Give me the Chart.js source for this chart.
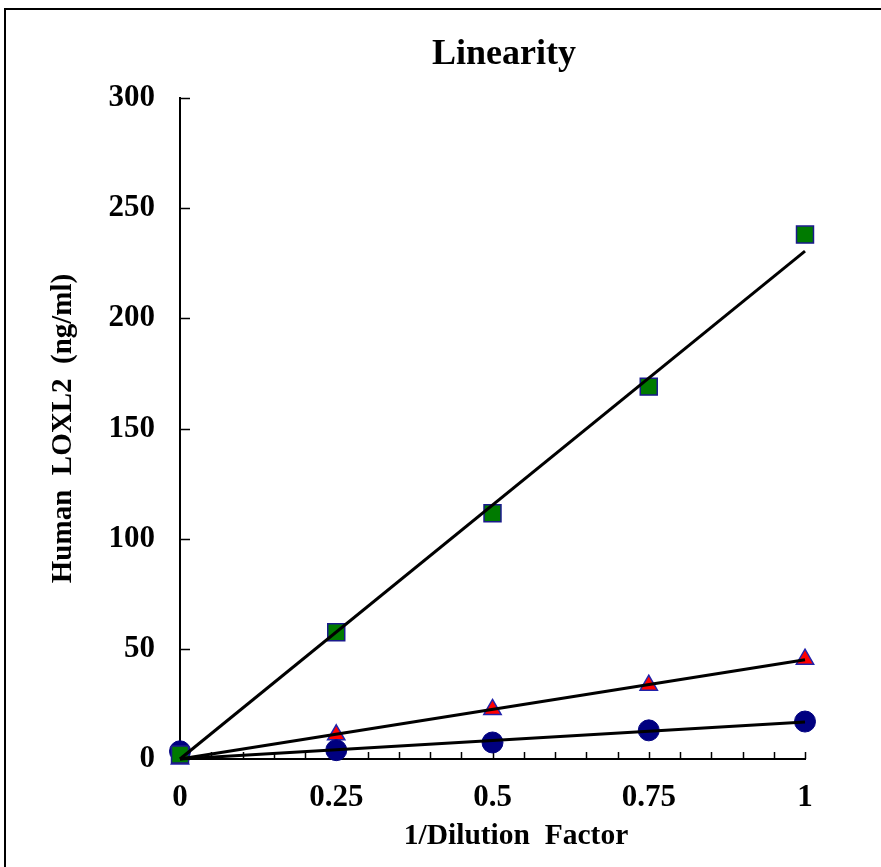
<!DOCTYPE html>
<html lang="en">
<head>
    <meta charset="UTF-8">
    <title>Linearity</title>
    <script src="https://cdn.jsdelivr.net/npm/chart.js"></script>
    <style>
        html, body { margin: 0; padding: 0; background: #fff; }
        #wrap { width: 881px; height: 867px; position: relative; }
    </style>
</head>
<body>
    <div id="wrap"><canvas id="linearityChart" width="881" height="867"></canvas></div>

    <script>
        // dilution points (x) and measured values per sample
        const dilution = [0, 0.25, 0.5, 0.75, 1];
        const squares = [2, 57.5, 111.5, 169, 238];
        const triangles = [0, 11, 22.5, 33.5, 45.3];
        const circles = [3.5, 4, 7.5, 13, 17];

        // fitted lines (value at x = 0 and x = 1)
        const fitX = [0, 1];
        const fitSquares = [0, 230.5];
        const fitTriangles = [0, 45];
        const fitCircles = [0, 16.8];

        const xTickLabels = ['0', '0.25', '0.5', '0.75', '1'];
        const yTicks = [0, 50, 100, 150, 200, 250, 300];

        const toPoints = (xs, ys) => xs.map((x, i) => ({ x: x, y: ys[i] }));
        const serif = '"Liberation Serif", "Times New Roman", serif';

        const fitLine = (ys) => ({
            data: toPoints(fitX, ys),
            showLine: true,
            borderColor: '#000',
            borderWidth: 3,
            pointRadius: 0,
            clip: false
        });

        // frame, titles and inward tick marks
        const decor = {
            id: 'decor',
            beforeDatasetsDraw(chart) {
                const ctx = chart.ctx;
                const x = chart.scales.x, y = chart.scales.y;
                const area = chart.chartArea;
                ctx.save();
                ctx.strokeStyle = '#000';
                ctx.lineWidth = 1.5;
                ctx.beginPath();
                x.ticks.forEach(t => {
                    const px = Math.round(x.getPixelForValue(t.value)) + 0.5;
                    ctx.moveTo(px, area.bottom);
                    ctx.lineTo(px, area.bottom - 7);
                });
                y.ticks.forEach(t => {
                    const py = Math.round(y.getPixelForValue(t.value)) + 0.5;
                    ctx.moveTo(area.left, py);
                    ctx.lineTo(area.left + 10, py);
                });
                ctx.stroke();
                ctx.restore();
            },
            afterDraw(chart) {
                const ctx = chart.ctx;
                ctx.save();
                ctx.strokeStyle = '#000';
                ctx.lineWidth = 2;
                ctx.strokeRect(5, 9, 1000, 1000);
                ctx.fillStyle = '#000';
                ctx.textAlign = 'center';
                ctx.textBaseline = 'middle';
                ctx.font = 'bold 36px ' + serif;
                ctx.fillText('Linearity', 504, 55);
                ctx.font = 'bold 29.5px ' + serif;
                ctx.fillText('1/Dilution  Factor', 516, 836);
                ctx.restore();
            }
        };

        new Chart(document.getElementById('linearityChart'), {
            type: 'scatter',
            data: {
                datasets: [
                    fitLine(fitSquares),
                    fitLine(fitTriangles),
                    fitLine(fitCircles),
                    {
                        data: toPoints(dilution, squares),
                        pointStyle: 'rect',
                        pointRadius: 12,
                        backgroundColor: '#007a00',
                        borderColor: '#1a1a8c',
                        borderWidth: 1.5,
                        clip: false
                    },
                    {
                        data: toPoints(dilution, circles),
                        pointStyle: 'circle',
                        pointRadius: 10.5,
                        backgroundColor: '#000080',
                        borderColor: '#000080',
                        borderWidth: 1,
                        clip: false
                    },
                    {
                        data: toPoints(dilution, triangles),
                        pointStyle: 'triangle',
                        pointRadius: 10,
                        backgroundColor: '#ff0000',
                        borderColor: '#2222aa',
                        borderWidth: 1.5,
                        clip: false
                    }
                ]
            },
            options: {
                responsive: false,
                animation: false,
                events: [],
                layout: { padding: { top: 98, right: 76, left: 0, bottom: 0 } },
                plugins: {
                    legend: { display: false },
                    tooltip: { enabled: false }
                },
                scales: {
                    x: {
                        type: 'linear',
                        min: 0,
                        max: 1,
                        afterFit: s => { s.height = 108; },
                        grid: { display: true, drawOnChartArea: false, drawTicks: false },
                        border: { display: true, color: '#000', width: 2 },
                        ticks: {
                            stepSize: 0.05,
                            autoSkip: false,
                            maxRotation: 0,
                            padding: 20,
                            color: '#000',
                            font: { family: serif, size: 31, weight: 'bold' },
                            callback: v => {
                                const q = v * 4;
                                if (Math.abs(q - Math.round(q)) > 1e-6) return '';
                                return xTickLabels[Math.round(q)];
                            }
                        },
                        title: { display: false }
                    },
                    y: {
                        min: 0,
                        max: 300,
                        afterFit: s => { s.width = 180; },
                        afterBuildTicks: s => { s.ticks = yTicks.map(v => ({ value: v })); },
                        grid: { display: true, drawOnChartArea: false, drawTicks: false },
                        border: { display: true, color: '#000', width: 2 },
                        ticks: {
                            padding: 25,
                            color: '#000',
                            font: { family: serif, size: 31, weight: 'bold' }
                        },
                        title: {
                            display: true,
                            text: 'Human  LOXL2  (ng/ml)',
                            color: '#000',
                            font: { family: serif, size: 29, weight: 'bold' },
                            padding: { top: 46, bottom: 0 }
                        }
                    }
                }
            },
            plugins: [decor]
        });
    </script>
</body>
</html>
